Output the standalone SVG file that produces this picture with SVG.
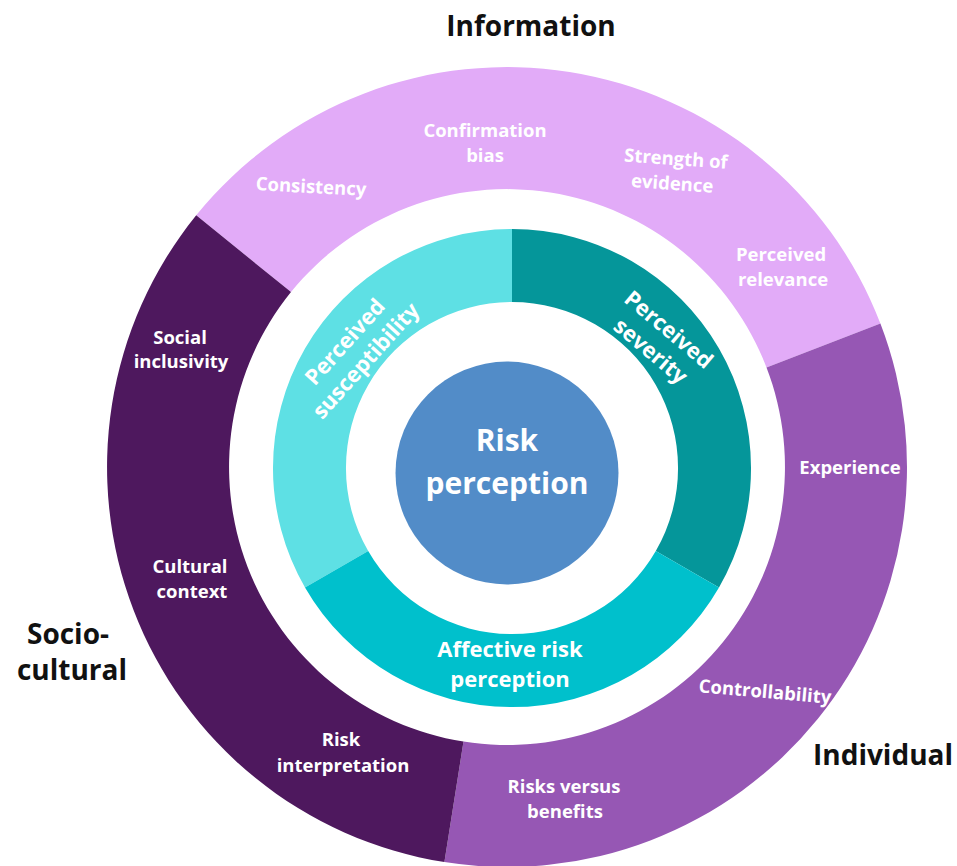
<svg xmlns="http://www.w3.org/2000/svg" width="957" height="866" viewBox="0 0 957 866">
  <style>
    .lbl { font-family: "Open Sans", "Liberation Sans", sans-serif; font-weight: 700; fill: #ffffff; text-anchor: middle; }
    .outer { font-size: 18.5px; }
    .mid { font-size: 22px; }
    .core { font-size: 30px; }
    .cat { font-family: "Open Sans", "Liberation Sans", sans-serif; font-weight: 700; font-size: 28px; fill: #111111; text-anchor: middle; }
  </style>
  <rect width="957" height="866" fill="#ffffff"/>

  <!-- Outer ring: centre (507,467), radii 400 / 278, three 120 degree sectors -->
  <g id="information">
    <path d="M196.2,215.3 A400,400 0 0 1 880.4,323.6 L766.5,367.4 A278,278 0 0 0 291.0,292.1 Z" fill="#E2ABF8"/>
    <text class="lbl outer" transform="rotate(3 311 187)" x="311" y="193">Consistency</text>
    <text class="lbl outer" x="485" y="137">Confirmation</text>
    <text class="lbl outer" x="485" y="162">bias</text>
    <g transform="rotate(4 673 172)">
      <text class="lbl outer" x="675" y="165">Strength of</text>
      <text class="lbl outer" x="673" y="190">evidence</text>
    </g>
    <text class="lbl outer" x="781" y="261">Perceived</text>
    <text class="lbl outer" x="783" y="286">relevance</text>
  </g>

  <g id="individual">
    <path d="M880.4,323.6 A400,400 0 0 1 444.4,862.1 L463.5,741.6 A278,278 0 0 0 766.5,367.4 Z" fill="#9657B4"/>
    <text class="lbl outer" x="850" y="474">Experience</text>
    <text class="lbl outer" transform="rotate(5 765 692)" x="765" y="698">Controllability</text>
    <text class="lbl outer" x="564" y="793">Risks versus</text>
    <text class="lbl outer" x="565" y="818">benefits</text>
  </g>

  <g id="sociocultural">
    <path d="M444.4,862.1 A400,400 0 0 1 196.2,215.3 L291.0,292.1 A278,278 0 0 0 463.5,741.6 Z" fill="#4E185E"/>
    <text class="lbl outer" x="180" y="344">Social</text>
    <text class="lbl outer" x="181" y="368">inclusivity</text>
    <text class="lbl outer" x="190" y="573">Cultural</text>
    <text class="lbl outer" x="192" y="598">context</text>
    <text class="lbl outer" x="341" y="746">Risk</text>
    <text class="lbl outer" x="343" y="772">interpretation</text>
  </g>

  <!-- Middle ring: centre (512,468), radii 239 / 166 -->
  <g id="susceptibility">
    <path d="M305.0,587.5 A239,239 0 0 1 512,229 L512,302 A166,166 0 0 0 368.2,551 Z" fill="#5EE0E4"/>
    <g transform="translate(355 351) rotate(-48)">
      <text class="lbl mid" x="0" y="-6">Perceived</text>
      <text class="lbl mid" x="0" y="22">susceptibility</text>
    </g>
  </g>

  <g id="severity">
    <path d="M512,229 A239,239 0 0 1 719.0,587.5 L655.8,551 A166,166 0 0 0 512,302 Z" fill="#05969A"/>
    <g transform="translate(660 340) rotate(40)">
      <text class="lbl mid" x="0" y="-6">Perceived</text>
      <text class="lbl mid" x="0" y="22">severity</text>
    </g>
  </g>

  <g id="affective">
    <path d="M719.0,587.5 A239,239 0 0 1 305.0,587.5 L368.2,551 A166,166 0 0 0 655.8,551 Z" fill="#00C0CC"/>
    <text class="lbl mid" x="510" y="657">Affective risk</text>
    <text class="lbl mid" x="510" y="687">perception</text>
  </g>

  <!-- Core -->
  <g id="risk-perception">
    <circle cx="507" cy="473" r="111.5" fill="#528CC8"/>
    <text class="lbl core" x="507" y="451">Risk</text>
    <text class="lbl core" x="507" y="494">perception</text>
  </g>

  <!-- Category headings -->
  <g id="headings">
    <text class="cat" x="531" y="36">Information</text>
    <text class="cat" x="68" y="644">Socio-</text>
    <text class="cat" x="72" y="680">cultural</text>
    <text class="cat" x="883" y="765">Individual</text>
  </g>
</svg>
